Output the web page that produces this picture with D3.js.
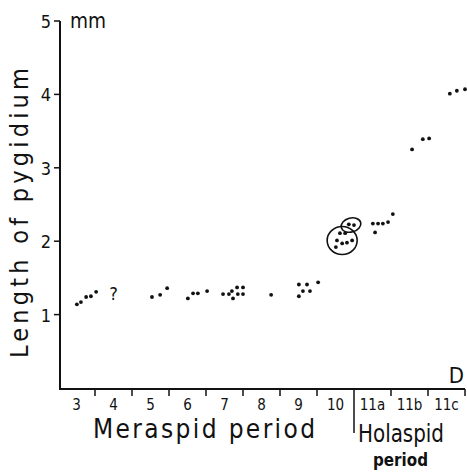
<!DOCTYPE html>
<html>
<head>
<meta charset="utf-8">
<script src="https://cdn.jsdelivr.net/npm/d3@7"></script>
<style>
  body { margin: 0; background: #fff; }
  svg text { font-family: "DejaVu Sans Condensed", "DejaVu Sans", sans-serif; font-stretch: condensed; fill: #111; }
</style>
</head>
<body>
<svg id="chart" width="467" height="472"></svg>
<script>
// instar categories along the bottom
var instars = ["3", "4", "5", "6", "7", "8", "9", "10", "11a", "11b", "11c"];
var yTicks = [1, 2, 3, 4, 5];

// measured specimens: x = instar index (with spread inside its column), y = length in mm
var ptX = [0.01, 0.12, 0.26, 0.39, 0.53,
           2.04, 2.26, 2.45,
           3.01, 3.15, 3.28, 3.53,
           3.96, 4.12, 4.20, 4.23, 4.34, 4.50, 4.36, 4.50,
           5.26,
           6.01, 6.23, 6.53, 6.01, 6.12, 6.31,
           7.12, 7.26, 7.04, 7.18, 7.31, 7.45, 7.01, 7.36, 7.50,
           8.01, 8.15, 8.28, 8.42, 8.55, 8.07,
           9.07, 9.36, 9.53,
           10.09, 10.28, 10.50];
var ptY = [1.14, 1.17, 1.24, 1.25, 1.31,
           1.24, 1.27, 1.36,
           1.22, 1.29, 1.29, 1.32,
           1.28, 1.28, 1.32, 1.22, 1.37, 1.37, 1.28, 1.28,
           1.27,
           1.41, 1.41, 1.44, 1.25, 1.32, 1.32,
           2.11, 2.11, 2.01, 1.97, 1.98, 2.01, 1.92, 2.23, 2.22,
           2.24, 2.24, 2.24, 2.26, 2.37, 2.12,
           3.25, 3.39, 3.40,
           4.01, 4.05, 4.07];

// the two rings drawn round the instar 10 specimens
var ringX = [7.18, 7.42];
var ringY = [2.01, 2.22];

// uncertain point for instar 4
var queryX = 1;
var queryY = 1.3;

var svg = d3.select("#chart");

var x = d3.scaleLinear().domain([-0.5, instars.length - 0.5]).range([58, 465]);
var y = d3.scaleLinear().domain([0, 5]).range([388, 21]);

// y axis
svg.append("line")
    .attr("x1", 60).attr("x2", 60)
    .attr("y1", y(5)).attr("y2", y(0) + 1)
    .style("stroke", "#111").style("stroke-width", 2);

svg.selectAll(".ytick").data(yTicks).enter().append("line")
    .attr("x1", 54).attr("x2", 60)
    .attr("y1", function(d){ return y(d); })
    .attr("y2", function(d){ return y(d); })
    .style("stroke", "#111").style("stroke-width", 1.5);

svg.selectAll(".ylab").data(yTicks).enter().append("text")
    .attr("x", 51)
    .attr("y", function(d){ return y(d) + 7; })
    .attr("text-anchor", "end")
    .style("font-size", "18px")
    .text(function(d){ return d; });

svg.append("text")
    .attr("x", 70).attr("y", 28)
    .attr("textLength", 36).attr("lengthAdjust", "spacingAndGlyphs")
    .style("font-size", "21px")
    .text("mm");

svg.append("text")
    .attr("transform", "translate(28," + 213 + ") rotate(-90)")
    .attr("text-anchor", "middle")
    .attr("textLength", 290).attr("lengthAdjust", "spacing")
    .style("font-size", "25px")
    .text("Length of pygidium");

// x axis
svg.append("line")
    .attr("x1", 59).attr("x2", 465)
    .attr("y1", y(0) + 1).attr("y2", y(0) + 1)
    .style("stroke", "#111").style("stroke-width", 2);

var bounds = d3.range(instars.length).map(function(i){ return i + 0.5; });
svg.selectAll(".xtick").data(bounds).enter().append("line")
    .attr("x1", function(d){ return x(d); })
    .attr("x2", function(d){ return x(d); })
    .attr("y1", y(0) + 1)
    .attr("y2", function(d){ return d === 7.5 ? 433 : 396; })
    .style("stroke", "#111").style("stroke-width", 1.5);

svg.selectAll(".xlab").data(instars).enter().append("text")
    .attr("x", function(d, i){ return x(i); })
    .attr("y", 410)
    .attr("text-anchor", "middle")
    .style("font-size", "15px")
    .text(function(d){ return d; });

svg.append("text")
    .attr("x", 93).attr("y", 438)
    .attr("textLength", 222).attr("lengthAdjust", "spacing")
    .style("font-size", "26px")
    .text("Meraspid period");

svg.append("text")
    .attr("x", 358).attr("y", 442)
    .attr("textLength", 86).attr("lengthAdjust", "spacingAndGlyphs")
    .style("font-size", "25px")
    .text("Holaspid");

svg.append("text")
    .attr("x", 373).attr("y", 466)
    .attr("textLength", 55).attr("lengthAdjust", "spacingAndGlyphs")
    .style("font-size", "17px").style("font-weight", "bold")
    .text("period");

svg.append("text")
    .attr("x", 464).attr("y", 383)
    .attr("text-anchor", "end")
    .style("font-size", "22px")
    .text("D");

// points
var pts = ptX.map(function(v, i){ return [v, ptY[i]]; });
svg.selectAll(".dot").data(pts).enter().append("circle")
    .attr("cx", function(d){ return x(d[0]); })
    .attr("cy", function(d){ return y(d[1]); })
    .attr("r", 1.9)
    .style("fill", "#111");

svg.append("text")
    .attr("x", x(queryX)).attr("y", y(queryY) + 7)
    .attr("text-anchor", "middle")
    .style("font-size", "18px")
    .text("?");

// rings
svg.append("ellipse")
    .attr("cx", x(ringX[0])).attr("cy", y(ringY[0]))
    .attr("rx", 15).attr("ry", 14)
    .style("fill", "none").style("stroke", "#111").style("stroke-width", 1.6);

svg.append("ellipse")
    .attr("transform", "translate(" + x(ringX[1]) + "," + y(ringY[1]) + ") rotate(-15)")
    .attr("rx", 10).attr("ry", 7)
    .style("fill", "none").style("stroke", "#111").style("stroke-width", 1.6);
</script>
</body>
</html>
